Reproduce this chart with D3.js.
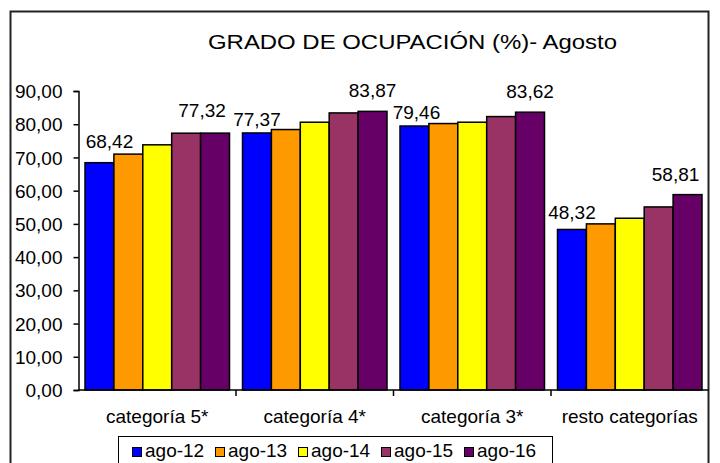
<!DOCTYPE html>
<html>
<head>
<meta charset="utf-8">
<script src="https://cdn.jsdelivr.net/npm/d3@7"></script>
<style>
body{margin:0;background:#fff}
svg{display:block;font-family:Arial,"Liberation Sans",sans-serif}
</style>
</head>
<body>
<svg id="chart" width="720" height="463"></svg>
<script>
var categories = ['categoría 5*','categoría 4*','categoría 3*','resto categorías']
var seriesNames = ['ago-12','ago-13','ago-14','ago-15','ago-16']
var seriesColors = ['#0000FF','#FF9900','#FFFF00','#993366','#660066']
var values = [
	[68.42, 77.37, 79.46, 48.32],
	[71.0, 78.4, 80.2, 50.0],
	[73.8, 80.6, 80.6, 51.7],
	[77.3, 83.4, 82.3, 55.1],
	[77.32, 83.87, 83.62, 58.81]
]
var labelled = [0,4]
var yTicks = [0,10,20,30,40,50,60,70,80,90]

// label nudges (dx,dy) per category, for first and last labelled series
var nudge = {
	0: [[10,-15],[-13,-16]],
	1: [[0,-7],[0,-14]],
	2: [[2,-7],[0,-14]],
	3: [[0,-10],[-12,-14]]
}

var svg = d3.select('#chart')
var fmt = v=>v.toFixed(2).replace('.',',')
var fs = '19px'

// outer frame
svg.append('rect').attr('x',10.5).attr('y',11.5).attr('width',698).attr('height',470)
	.style('fill','none').style('stroke','#222').style('stroke-width',2)

svg.append('text').text('GRADO DE OCUPACIÓN (%)- Agosto')
	.attr('x',208).attr('y',49)
	.attr('textLength',409).attr('lengthAdjust','spacingAndGlyphs')
	.style('font-size','20px')

var x0 = d3.scaleBand().domain(categories).range([78.5,708.5])
var x1 = d3.scaleBand().domain(seriesNames).range([6.5,x0.bandwidth()-6.5])
var y = d3.scaleLinear().domain([0,90]).range([390,91])

var plot = svg.append('g')

categories.forEach((c,ci)=>{
	var g = plot.append('g').attr('transform',`translate(${x0(c)},0)`)
	seriesNames.forEach((s,si)=>{
		var v = values[si][ci]
		g.append('rect')
			.attr('x',x1(s)).attr('y',y(v))
			.attr('width',x1.bandwidth()).attr('height',y(0)-y(v))
			.style('fill',seriesColors[si]).style('stroke','#000').style('stroke-width',1.5)
		var li = labelled.indexOf(si)
		if (li>=0) {
			var n = nudge[ci][li]
			g.append('text').text(fmt(v))
				.attr('x',x1(s)+x1.bandwidth()/2+n[0]).attr('y',y(v)+n[1])
				.attr('text-anchor','middle').style('font-size',fs)
		}
	})
})

// y axis
var yAxis = svg.append('g').attr('transform','translate(78.5,0)')
	.call(d3.axisLeft(y).tickValues(yTicks).tickSize(5).tickPadding(11).tickFormat(fmt))
yAxis.selectAll('text').style('font-size',fs).style('fill','#000').attr('dy','0.35em')
yAxis.selectAll('line,path').style('stroke','#000').style('stroke-width',1.5)

// x axis
var xAxis = svg.append('g').attr('transform','translate(0,390)')
xAxis.append('line').attr('x1',78.5).attr('x2',708.5)
	.style('stroke','#000').style('stroke-width',1.5)
categories.forEach((c,ci)=>{
	if (ci>0) xAxis.append('line').attr('x1',x0(c)).attr('x2',x0(c)).attr('y1',0).attr('y2',6)
		.style('stroke','#000').style('stroke-width',1.5)
	xAxis.append('text').text(c)
		.attr('x',x0(c)+x0.bandwidth()/2).attr('y',33)
		.attr('text-anchor','middle').style('font-size',fs)
})

// legend
var legend = svg.append('g')
legend.append('rect').attr('x',118.5).attr('y',436.5).attr('width',434).attr('height',40)
	.style('fill','#fff').style('stroke','#000').style('stroke-width',1)
seriesNames.forEach((s,si)=>{
	var lx = 132 + si*83
	legend.append('rect').attr('x',lx+0.5).attr('y',447.5).attr('width',9).attr('height',9)
		.style('fill',seriesColors[si]).style('stroke','#000').style('stroke-width',1)
	legend.append('text').text(s).attr('x',lx+13).attr('y',457).style('font-size',fs)
})
</script>
</body>
</html>
